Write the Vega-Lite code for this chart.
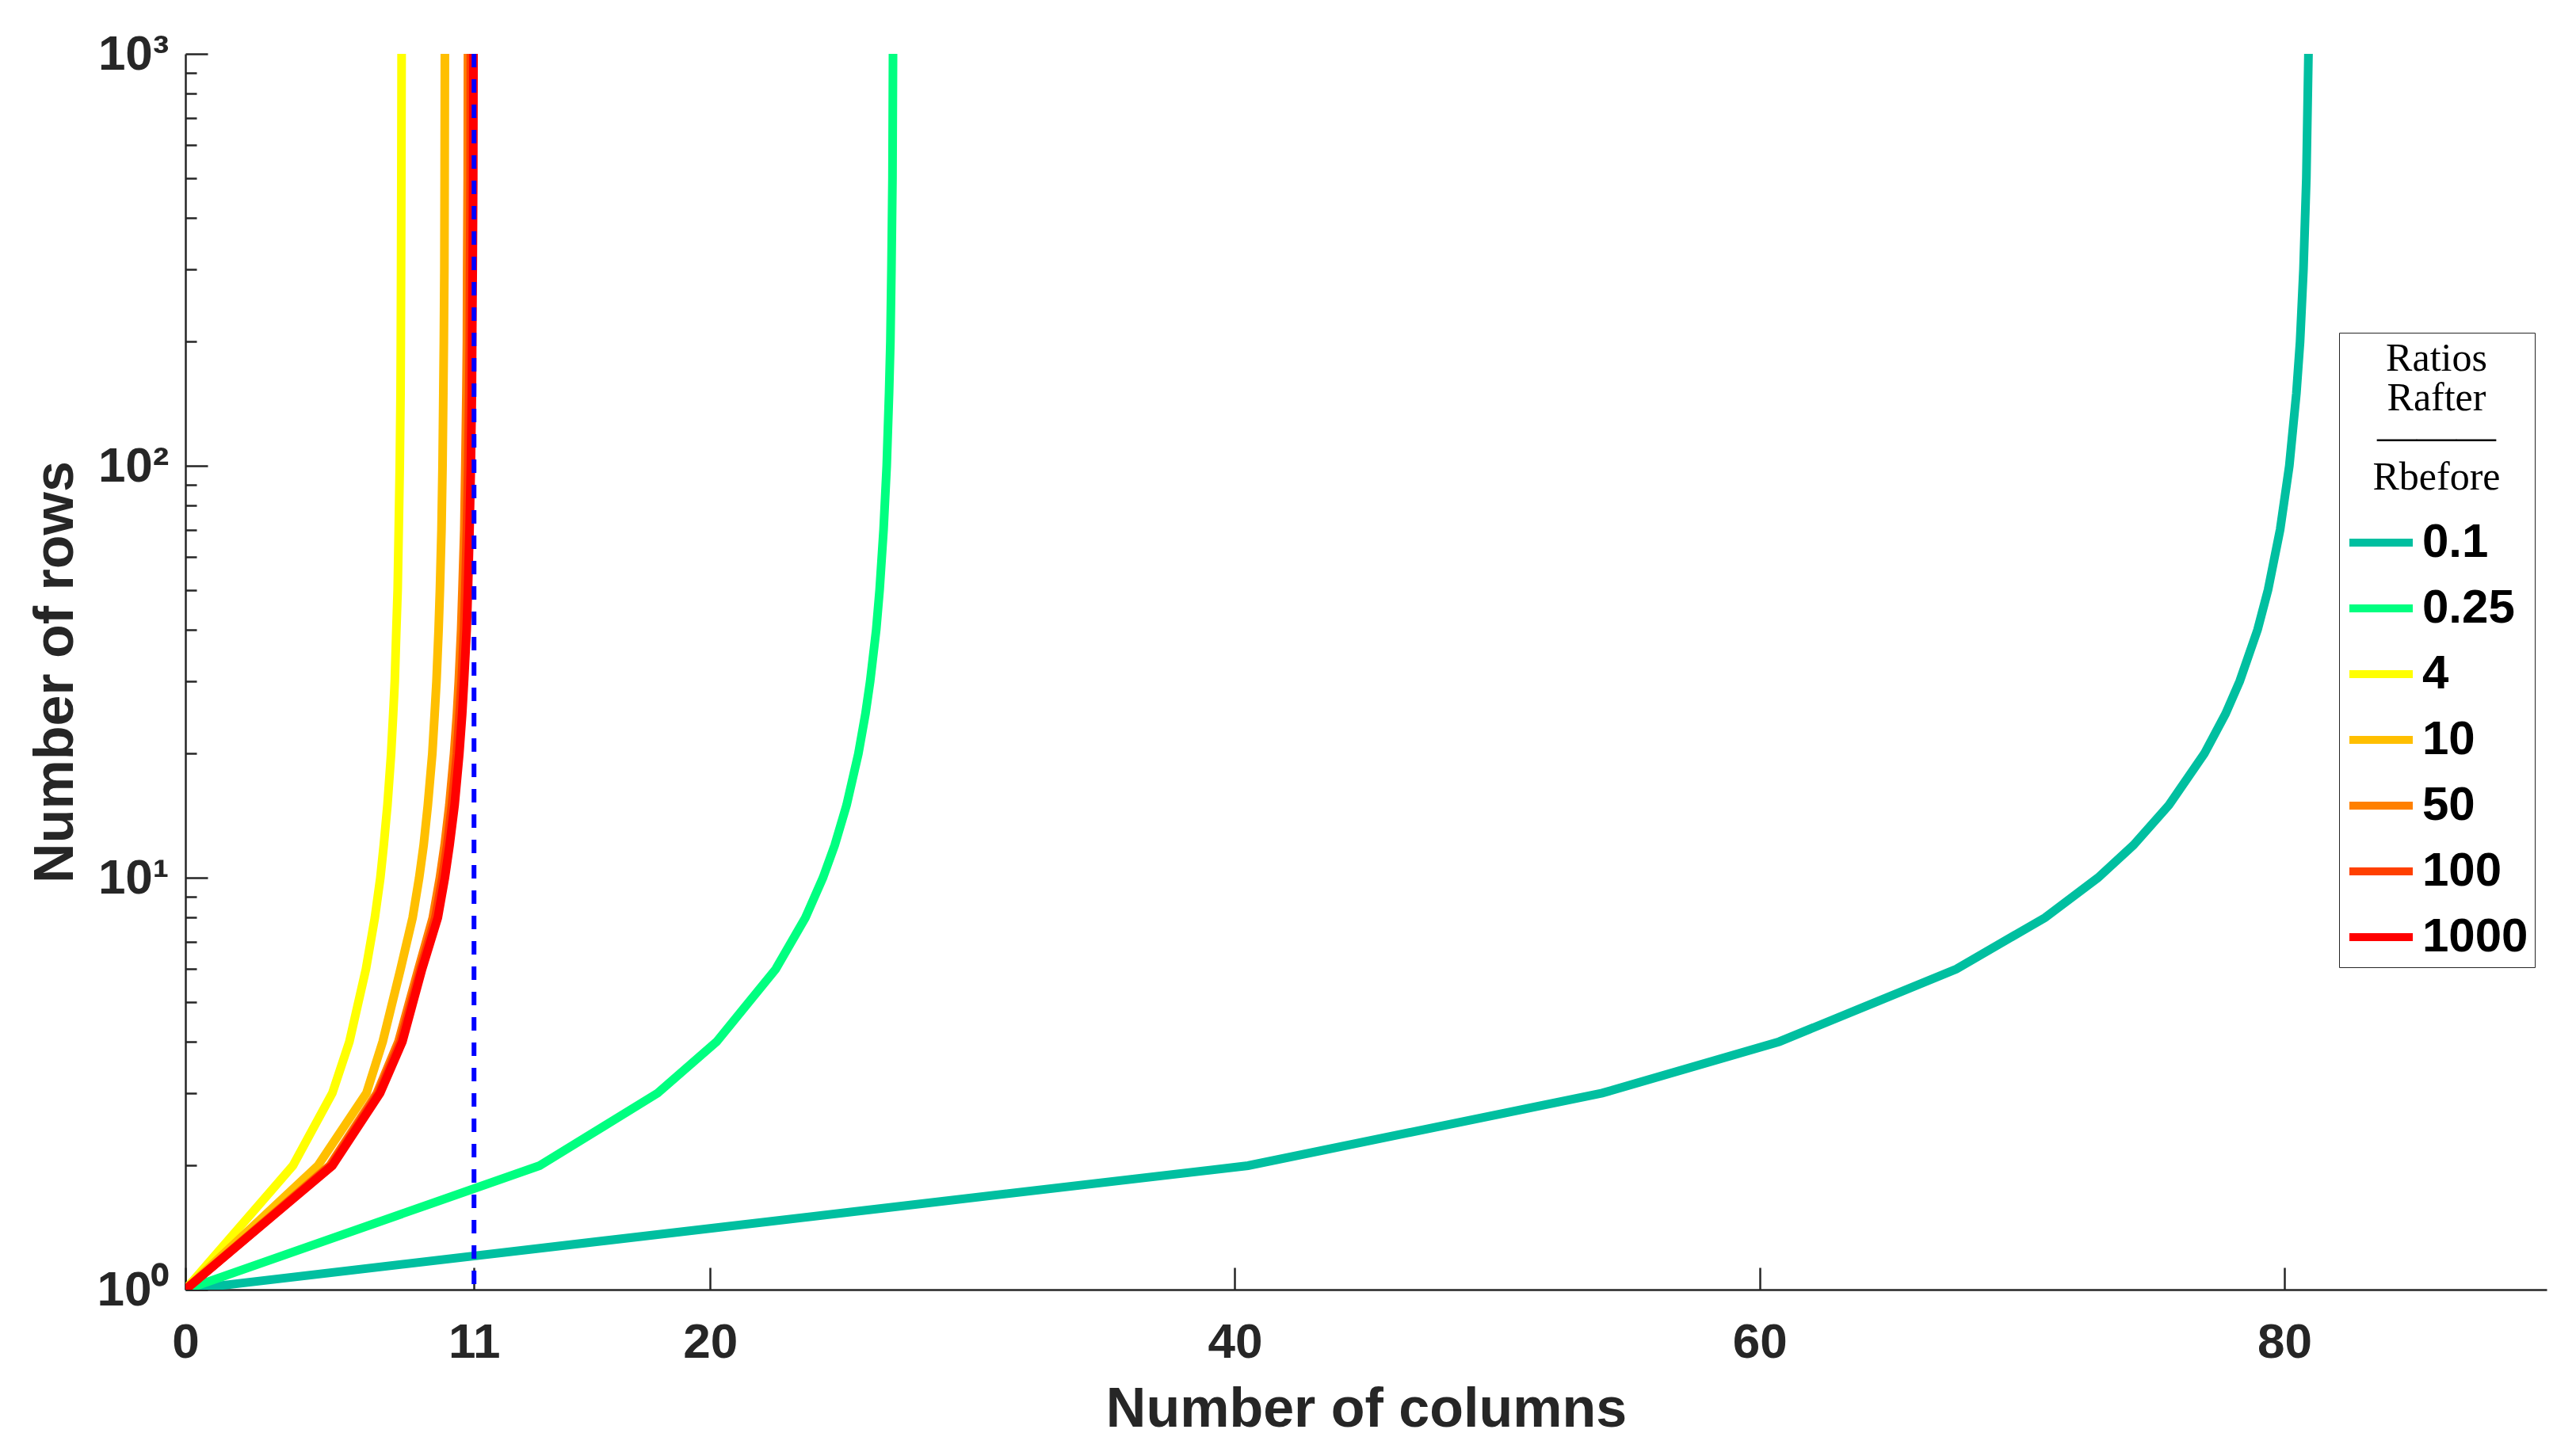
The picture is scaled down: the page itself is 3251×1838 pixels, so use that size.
{
  "$schema": "https://vega.github.io/schema/vega-lite/v6.json",
  "autosize": {"type": "none"},
  "width": 2980,
  "height": 1560,
  "padding": {"left": 234, "top": 68, "right": 37, "bottom": 210},
  "background": "white",
  "config": {
    "view": {"stroke": null},
    "font": "Liberation Sans",
    "axis": {
      "grid": false,
      "domainColor": "#262626",
      "domainWidth": 2.5,
      "tickColor": "#262626",
      "tickWidth": 2.5,
      "labelFont": "Liberation Sans",
      "labelFontWeight": "bold",
      "labelColor": "#262626",
      "titleFont": "Liberation Sans",
      "titleFontWeight": "bold",
      "titleColor": "#262626",
      "titleFontSize": 70,
      "labelOverlap": false,
      "labelFlush": false
    }
  },
  "datasets": {
    "curves": [
      {"ratio": "0.1", "cols": 0, "rows": 1},
      {"ratio": "0.1", "cols": 40.5, "rows": 2},
      {"ratio": "0.1", "cols": 54, "rows": 3},
      {"ratio": "0.1", "cols": 60.75, "rows": 4},
      {"ratio": "0.1", "cols": 67.5, "rows": 6},
      {"ratio": "0.1", "cols": 70.88, "rows": 8},
      {"ratio": "0.1", "cols": 72.9, "rows": 10},
      {"ratio": "0.1", "cols": 74.25, "rows": 12},
      {"ratio": "0.1", "cols": 75.6, "rows": 15},
      {"ratio": "0.1", "cols": 76.95, "rows": 20},
      {"ratio": "0.1", "cols": 77.76, "rows": 25},
      {"ratio": "0.1", "cols": 78.3, "rows": 30},
      {"ratio": "0.1", "cols": 78.98, "rows": 40},
      {"ratio": "0.1", "cols": 79.38, "rows": 50},
      {"ratio": "0.1", "cols": 79.84, "rows": 70},
      {"ratio": "0.1", "cols": 80.19, "rows": 100},
      {"ratio": "0.1", "cols": 80.46, "rows": 150},
      {"ratio": "0.1", "cols": 80.6, "rows": 200},
      {"ratio": "0.1", "cols": 80.73, "rows": 300},
      {"ratio": "0.1", "cols": 80.84, "rows": 500},
      {"ratio": "0.1", "cols": 80.92, "rows": 1000},
      {"ratio": "0.25", "cols": 0, "rows": 1},
      {"ratio": "0.25", "cols": 13.5, "rows": 2},
      {"ratio": "0.25", "cols": 18, "rows": 3},
      {"ratio": "0.25", "cols": 20.25, "rows": 4},
      {"ratio": "0.25", "cols": 22.5, "rows": 6},
      {"ratio": "0.25", "cols": 23.63, "rows": 8},
      {"ratio": "0.25", "cols": 24.3, "rows": 10},
      {"ratio": "0.25", "cols": 24.75, "rows": 12},
      {"ratio": "0.25", "cols": 25.2, "rows": 15},
      {"ratio": "0.25", "cols": 25.65, "rows": 20},
      {"ratio": "0.25", "cols": 25.92, "rows": 25},
      {"ratio": "0.25", "cols": 26.1, "rows": 30},
      {"ratio": "0.25", "cols": 26.33, "rows": 40},
      {"ratio": "0.25", "cols": 26.46, "rows": 50},
      {"ratio": "0.25", "cols": 26.61, "rows": 70},
      {"ratio": "0.25", "cols": 26.73, "rows": 100},
      {"ratio": "0.25", "cols": 26.82, "rows": 150},
      {"ratio": "0.25", "cols": 26.87, "rows": 200},
      {"ratio": "0.25", "cols": 26.91, "rows": 300},
      {"ratio": "0.25", "cols": 26.95, "rows": 500},
      {"ratio": "0.25", "cols": 26.97, "rows": 1000},
      {"ratio": "4", "cols": 0, "rows": 1},
      {"ratio": "4", "cols": 4.1, "rows": 2},
      {"ratio": "4", "cols": 5.6, "rows": 3},
      {"ratio": "4", "cols": 6.25, "rows": 4},
      {"ratio": "4", "cols": 6.88, "rows": 6},
      {"ratio": "4", "cols": 7.22, "rows": 8},
      {"ratio": "4", "cols": 7.43, "rows": 10},
      {"ratio": "4", "cols": 7.56, "rows": 12},
      {"ratio": "4", "cols": 7.7, "rows": 15},
      {"ratio": "4", "cols": 7.84, "rows": 20},
      {"ratio": "4", "cols": 7.92, "rows": 25},
      {"ratio": "4", "cols": 7.98, "rows": 30},
      {"ratio": "4", "cols": 8.04, "rows": 40},
      {"ratio": "4", "cols": 8.09, "rows": 50},
      {"ratio": "4", "cols": 8.13, "rows": 70},
      {"ratio": "4", "cols": 8.17, "rows": 100},
      {"ratio": "4", "cols": 8.2, "rows": 150},
      {"ratio": "4", "cols": 8.21, "rows": 200},
      {"ratio": "4", "cols": 8.22, "rows": 300},
      {"ratio": "4", "cols": 8.23, "rows": 500},
      {"ratio": "4", "cols": 8.24, "rows": 1000},
      {"ratio": "10", "cols": 0, "rows": 1},
      {"ratio": "10", "cols": 5.05, "rows": 2},
      {"ratio": "10", "cols": 6.9, "rows": 3},
      {"ratio": "10", "cols": 7.52, "rows": 4},
      {"ratio": "10", "cols": 8.2, "rows": 6},
      {"ratio": "10", "cols": 8.66, "rows": 8},
      {"ratio": "10", "cols": 8.91, "rows": 10},
      {"ratio": "10", "cols": 9.08, "rows": 12},
      {"ratio": "10", "cols": 9.24, "rows": 15},
      {"ratio": "10", "cols": 9.41, "rows": 20},
      {"ratio": "10", "cols": 9.5, "rows": 25},
      {"ratio": "10", "cols": 9.57, "rows": 30},
      {"ratio": "10", "cols": 9.65, "rows": 40},
      {"ratio": "10", "cols": 9.7, "rows": 50},
      {"ratio": "10", "cols": 9.76, "rows": 70},
      {"ratio": "10", "cols": 9.8, "rows": 100},
      {"ratio": "10", "cols": 9.83, "rows": 150},
      {"ratio": "10", "cols": 9.85, "rows": 200},
      {"ratio": "10", "cols": 9.87, "rows": 300},
      {"ratio": "10", "cols": 9.88, "rows": 500},
      {"ratio": "10", "cols": 9.89, "rows": 1000},
      {"ratio": "50", "cols": 0, "rows": 1},
      {"ratio": "50", "cols": 5.5, "rows": 2},
      {"ratio": "50", "cols": 7.3, "rows": 3},
      {"ratio": "50", "cols": 8.12, "rows": 4},
      {"ratio": "50", "cols": 8.88, "rows": 6},
      {"ratio": "50", "cols": 9.43, "rows": 8},
      {"ratio": "50", "cols": 9.7, "rows": 10},
      {"ratio": "50", "cols": 9.88, "rows": 12},
      {"ratio": "50", "cols": 10.06, "rows": 15},
      {"ratio": "50", "cols": 10.24, "rows": 20},
      {"ratio": "50", "cols": 10.35, "rows": 25},
      {"ratio": "50", "cols": 10.42, "rows": 30},
      {"ratio": "50", "cols": 10.51, "rows": 40},
      {"ratio": "50", "cols": 10.56, "rows": 50},
      {"ratio": "50", "cols": 10.63, "rows": 70},
      {"ratio": "50", "cols": 10.67, "rows": 100},
      {"ratio": "50", "cols": 10.71, "rows": 150},
      {"ratio": "50", "cols": 10.73, "rows": 200},
      {"ratio": "50", "cols": 10.74, "rows": 300},
      {"ratio": "50", "cols": 10.76, "rows": 500},
      {"ratio": "50", "cols": 10.77, "rows": 1000},
      {"ratio": "100", "cols": 0, "rows": 1},
      {"ratio": "100", "cols": 5.55, "rows": 2},
      {"ratio": "100", "cols": 7.36, "rows": 3},
      {"ratio": "100", "cols": 8.2, "rows": 4},
      {"ratio": "100", "cols": 8.96, "rows": 6},
      {"ratio": "100", "cols": 9.53, "rows": 8},
      {"ratio": "100", "cols": 9.8, "rows": 10},
      {"ratio": "100", "cols": 9.98, "rows": 12},
      {"ratio": "100", "cols": 10.16, "rows": 15},
      {"ratio": "100", "cols": 10.35, "rows": 20},
      {"ratio": "100", "cols": 10.45, "rows": 25},
      {"ratio": "100", "cols": 10.53, "rows": 30},
      {"ratio": "100", "cols": 10.62, "rows": 40},
      {"ratio": "100", "cols": 10.67, "rows": 50},
      {"ratio": "100", "cols": 10.73, "rows": 70},
      {"ratio": "100", "cols": 10.78, "rows": 100},
      {"ratio": "100", "cols": 10.82, "rows": 150},
      {"ratio": "100", "cols": 10.84, "rows": 200},
      {"ratio": "100", "cols": 10.85, "rows": 300},
      {"ratio": "100", "cols": 10.87, "rows": 500},
      {"ratio": "100", "cols": 10.88, "rows": 1000},
      {"ratio": "1000", "cols": 0, "rows": 1},
      {"ratio": "1000", "cols": 5.6, "rows": 2},
      {"ratio": "1000", "cols": 7.42, "rows": 3},
      {"ratio": "1000", "cols": 8.27, "rows": 4},
      {"ratio": "1000", "cols": 9.02, "rows": 6},
      {"ratio": "1000", "cols": 9.62, "rows": 8},
      {"ratio": "1000", "cols": 9.89, "rows": 10},
      {"ratio": "1000", "cols": 10.07, "rows": 12},
      {"ratio": "1000", "cols": 10.26, "rows": 15},
      {"ratio": "1000", "cols": 10.44, "rows": 20},
      {"ratio": "1000", "cols": 10.55, "rows": 25},
      {"ratio": "1000", "cols": 10.62, "rows": 30},
      {"ratio": "1000", "cols": 10.72, "rows": 40},
      {"ratio": "1000", "cols": 10.77, "rows": 50},
      {"ratio": "1000", "cols": 10.83, "rows": 70},
      {"ratio": "1000", "cols": 10.88, "rows": 100},
      {"ratio": "1000", "cols": 10.92, "rows": 150},
      {"ratio": "1000", "cols": 10.93, "rows": 200},
      {"ratio": "1000", "cols": 10.95, "rows": 300},
      {"ratio": "1000", "cols": 10.97, "rows": 500},
      {"ratio": "1000", "cols": 10.98, "rows": 1000}
    ],
    "limit": [{"cols": 11}]
  },
  "layer": [
    {
      "data": {"name": "curves"},
      "mark": {"type": "line", "strokeWidth": 11, "clip": true},
      "encoding": {
        "x": {
          "field": "cols",
          "type": "quantitative",
          "scale": {"domain": [0, 90], "nice": false, "zero": false},
          "axis": {
            "title": "Number of columns",
            "values": [0, 11, 20, 40, 60, 80],
            "tickSize": -28,
            "labelFontSize": 62,
            "labelPadding": 64,
            "titlePadding": 20
          }
        },
        "y": {
          "field": "rows",
          "type": "quantitative",
          "scale": {"type": "log", "domain": [1, 1000], "nice": false},
          "axis": {
            "title": "Number of rows",
            "values": [1, 2, 3, 4, 5, 6, 7, 8, 9, 10, 20, 30, 40, 50, 60, 70, 80, 90, 100, 200, 300, 400, 500, 600, 700, 800, 900, 1000],
            "labelExpr": "datum.value == 1 ? '10⁰' : datum.value == 10 ? '10¹' : datum.value == 100 ? '10²' : datum.value == 1000 ? '10³' : ''",
            "tickSize": {"condition": {"test": "indexof([1, 10, 100, 1000], datum.value) >= 0", "value": -28}, "value": -14},
            "labelFontSize": 62,
            "labelPadding": 49,
            "titlePadding": 16
          }
        },
        "color": {
          "field": "ratio",
          "type": "nominal",
          "sort": ["0.1", "0.25", "4", "10", "50", "100", "1000"],
          "scale": {
            "domain": ["0.1", "0.25", "4", "10", "50", "100", "1000"],
            "range": ["#00BFA0", "#00FF80", "#FFFF00", "#FFBF00", "#FF8000", "#FF4000", "#FF0000"]
          },
          "legend": {
            "orient": "none",
            "legendX": 2718,
            "legendY": 352,
            "title": ["Ratios", "Rafter", "———", "Rbefore"],
            "titleFont": "Liberation Serif",
            "titleFontSize": 50,
            "titleFontWeight": "normal",
            "titleColor": "black",
            "titleAnchor": "middle",
            "titleAlign": "center",
            "titleLineHeight": 50,
            "titlePadding": 12,
            "labelFont": "Liberation Sans",
            "labelFontSize": 60,
            "labelFontWeight": "bold",
            "labelColor": "black",
            "symbolType": "stroke",
            "symbolSize": 6400,
            "symbolStrokeWidth": 10,
            "labelOffset": 7,
            "rowPadding": 8,
            "padding": 8,
            "strokeColor": "#262626",
            "fillColor": "white"
          }
        }
      }
    },
    {
      "data": {"name": "limit"},
      "mark": {"type": "rule", "color": "#0000FF", "strokeWidth": 6, "strokeDash": [17, 15]},
      "encoding": {"x": {"field": "cols", "type": "quantitative"}}
    }
  ]
}
